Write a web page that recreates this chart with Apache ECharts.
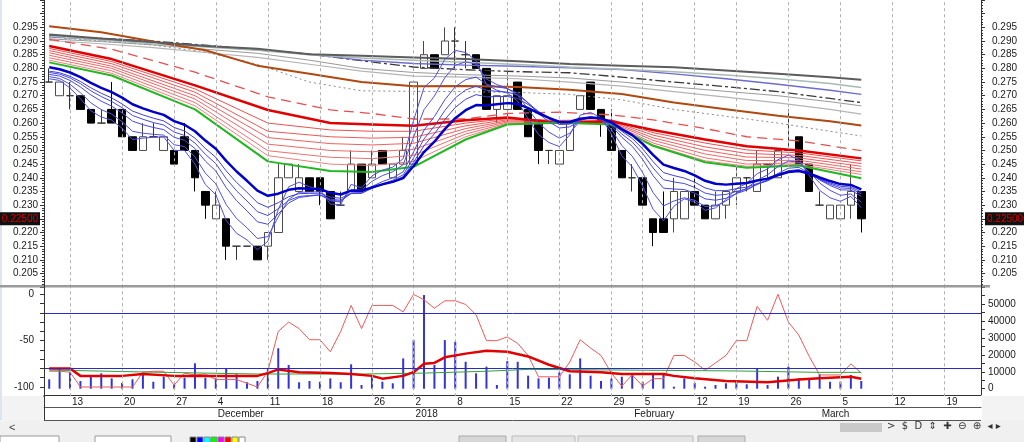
<!doctype html>
<html lang="en">
<head>
<meta charset="UTF-8">
<title>GMMA daily chart</title>
<script src="https://cdn.jsdelivr.net/npm/echarts@6/dist/echarts.min.js"></script>
<style>html,body{margin:0;padding:0;background:#fff;overflow:hidden}</style>
</head>
<body>
<div id="chart" style="width:1024px;height:442px"></div>
<script>
// trading days (the last ones are empty space on the right of the chart)
const dates = [
  '2017-11-09','2017-11-10','2017-11-13','2017-11-14','2017-11-15','2017-11-16','2017-11-17','2017-11-20','2017-11-21','2017-11-22',
  '2017-11-23','2017-11-24','2017-11-27','2017-11-28','2017-11-29','2017-11-30','2017-12-04','2017-12-05','2017-12-06','2017-12-07',
  '2017-12-08','2017-12-11','2017-12-12','2017-12-13','2017-12-14','2017-12-15','2017-12-18','2017-12-19','2017-12-20','2017-12-21',
  '2017-12-22','2017-12-26','2017-12-27','2017-12-28','2017-12-29','2018-01-02','2018-01-03','2018-01-04','2018-01-05','2018-01-08',
  '2018-01-09','2018-01-10','2018-01-11','2018-01-12','2018-01-15','2018-01-16','2018-01-17','2018-01-18','2018-01-19','2018-01-22',
  '2018-01-23','2018-01-24','2018-01-25','2018-01-26','2018-01-29','2018-01-30','2018-02-01','2018-02-05','2018-02-06','2018-02-07',
  '2018-02-08','2018-02-09','2018-02-12','2018-02-13','2018-02-14','2018-02-15','2018-02-19','2018-02-20','2018-02-21','2018-02-22',
  '2018-02-23','2018-02-26','2018-02-27','2018-02-28','2018-03-01','2018-03-02','2018-03-05','2018-03-06','2018-03-07','2018-03-08',
  '2018-03-09','2018-03-12','2018-03-13','2018-03-14','2018-03-15','2018-03-16','2018-03-19','2018-03-20','2018-03-21','2018-03-22'
];
const monthNames = ['January','February','March','April','May','June','July','August','September','October','November','December'];

const opens = [.275,.270,.270,.270,.265,.260,.265,.265,.255,.250,
  .255,.250,.250,.255,.250,.235,.225,.225,.215,.215,
  .215,.215,.220,.240,.235,.240,.240,.235,.230,.235,
  .245,.240,.250,.240,.245,.245,.280,.285,.285,.290,
  .285,.285,.280,.265,.265,.275,.265,.260,.250,.245,
  .250,.265,.275,.265,.260,.250,.240,.240,.225,.225,
  .225,.225,.235,.230,.225,.230,.235,.240,.235,.245,
  .240,.250,.255,.245,.230,.225,.225,.230,.235];
const closes = [.275,.275,.270,.265,.260,.260,.260,.255,.250,.255,
  .255,.255,.245,.250,.240,.230,.230,.215,.215,.215,
  .210,.220,.240,.245,.240,.235,.235,.225,.230,.245,
  .235,.245,.245,.245,.250,.275,.285,.280,.290,.290,
  .285,.280,.265,.270,.270,.265,.255,.250,.250,.250,
  .260,.270,.265,.260,.250,.240,.240,.230,.220,.220,
  .235,.235,.230,.225,.230,.235,.240,.240,.245,.245,
  .250,.250,.245,.235,.230,.230,.230,.235,.225];
const highs = [.280,.275,.275,.270,.265,.265,.275,.265,.255,.260,
  .260,.255,.250,.260,.250,.235,.235,.225,.215,.215,
  .215,.220,.245,.245,.245,.240,.240,.235,.235,.250,
  .245,.250,.250,.245,.255,.275,.290,.285,.295,.295,
  .290,.285,.280,.270,.280,.275,.265,.260,.250,.250,
  .260,.270,.275,.265,.265,.250,.245,.240,.225,.235,
  .240,.235,.240,.230,.235,.235,.245,.240,.250,.245,
  .250,.265,.255,.245,.235,.230,.230,.245,.235];
const lows = [.275,.270,.265,.265,.260,.260,.260,.255,.250,.250,
  .255,.250,.245,.250,.235,.225,.225,.210,.210,.215,
  .210,.210,.220,.240,.235,.235,.230,.225,.230,.235,
  .235,.240,.245,.240,.245,.245,.280,.280,.285,.280,
  .280,.280,.265,.260,.260,.265,.255,.245,.245,.245,
  .250,.265,.265,.255,.250,.240,.235,.230,.215,.220,
  .220,.225,.230,.225,.225,.225,.230,.235,.235,.240,
  .240,.250,.245,.235,.230,.225,.225,.225,.220];

// long-term averages, read at these day indexes
const longIdx = [0,5,10,15,20,25,30,35,40,45,50,55,60,65,70,75,78];
const maGrey1 = [.2924,.2909,.2896,.2882,.2872,.2852,.2846,.2840,.2834,.2826,.2816,.2810,.2804,.2792,.2780,.2768,.2758];
const maGrey2 = [.2918,.2904,.2890,.2878,.2866,.2850,.2838,.2830,.2822,.2814,.2805,.2797,.2788,.2776,.2762,.2745,.2730];
const maSlate = [.2915,.2905,.2895,.2882,.2868,.2852,.2830,.2818,.2812,.2808,.2802,.2796,.2780,.2762,.2742,.2720,.2705];
const maDashDot = [.2920,.2910,.2900,.2885,.2868,.2852,.2828,.2805,.2795,.2788,.2784,.2768,.2750,.2733,.2715,.2690,.2675];
const maGrey3 = [.2908,.2898,.2886,.2870,.2855,.2830,.2800,.2785,.2777,.2772,.2765,.2750,.2732,.2716,.2700,.2678,.2663];
const maGrey4 = [.2902,.2890,.2876,.2858,.2840,.2815,.2790,.2772,.2768,.2762,.2750,.2735,.2715,.2695,.2674,.2650,.2633];
const maBrown = [.2954,.2932,.2898,.2866,.2810,.2780,.2750,.2735,.2736,.2732,.2722,.2706,.2675,.2651,.2627,.2607,.2591];
const maDotted = [.2915,.2900,.2885,.2860,.2815,.2750,.2718,.2716,.2715,.2712,.2705,.2685,.2650,.2625,.2600,.2570,.2553];

// red / green band, read at these day indexes
const redIdx = [0,6,14,21,27,31,35,40,44,49,54,58,63,67,72,78];
const redDashed = [.2906,.2870,.2786,.2696,.2648,.2635,.2615,.2615,.2635,.2640,.2630,.2612,.2580,.2550,.2535,.2499];
const redThick = [.2882,.2834,.2738,.2648,.2600,.2595,.2590,.2610,.2620,.2600,.2607,.2575,.2540,.2515,.2500,.2471];
const red2 = [.2873,.2825,.2725,.2600,.2575,.2570,.2570,.2600,.2616,.2610,.2612,.2565,.2527,.2502,.2491,.2462];
const red3 = [.2865,.2817,.2713,.2570,.2550,.2545,.2548,.2590,.2612,.2607,.2608,.2556,.2513,.2489,.2482,.2452];
const red4 = [.2857,.2808,.2700,.2547,.2525,.2520,.2526,.2580,.2608,.2605,.2605,.2546,.2500,.2476,.2473,.2442];
const red5 = [.2848,.2800,.2688,.2523,.2500,.2495,.2504,.2570,.2604,.2603,.2602,.2537,.2487,.2463,.2464,.2432];
const red6 = [.2839,.2791,.2675,.2499,.2475,.2470,.2482,.2560,.2600,.2600,.2599,.2527,.2473,.2450,.2455,.2422];
const red7 = [.2830,.2782,.2663,.2481,.2450,.2445,.2460,.2550,.2597,.2598,.2597,.2520,.2462,.2442,.2449,.2412];
const greenMa = [.2822,.2774,.2650,.2460,.2425,.2421,.2440,.2540,.2595,.2602,.2595,.2517,.2457,.2437,.2445,.2398];

// short-term blue averages, one value per trading day
const blue6 = [.2762,.2756,.2728,.2689,.2645,.2622,.2611,.2581,.2540,.2545,
  .2548,.2549,.2500,.2500,.2450,.2375,.2338,.2244,.2197,.2173,
  .2137,.2168,.2284,.2367,.2384,.2367,.2358,.2304,.2302,.2376,
  .2363,.2407,.2428,.2439,.2470,.2610,.2730,.2765,.2833,.2866,
  .2858,.2829,.2740,.2720,.2710,.2680,.2615,.2558,.2529,.2514,
  .2557,.2629,.2639,.2620,.2560,.2480,.2440,.2370,.2285,.2243,
  .2296,.2323,.2312,.2281,.2290,.2320,.2360,.2380,.2415,.2432,
  .2466,.2483,.2467,.2408,.2354,.2327,.2314,.2332,.2291];
const blue5 = [.2770,.2763,.2742,.2711,.2674,.2649,.2633,.2605,.2570,.2563,
  .2559,.2556,.2521,.2514,.2476,.2417,.2378,.2302,.2251,.2217,
  .2178,.2185,.2257,.2321,.2347,.2348,.2349,.2316,.2311,.2357,
  .2355,.2387,.2408,.2422,.2448,.2549,.2649,.2699,.2766,.2811,
  .2824,.2816,.2761,.2741,.2727,.2701,.2651,.2601,.2567,.2545,
  .2563,.2609,.2623,.2615,.2577,.2518,.2479,.2419,.2346,.2297,
  .2315,.2327,.2318,.2295,.2297,.2315,.2343,.2362,.2391,.2411,
  .2441,.2461,.2457,.2421,.2381,.2354,.2336,.2341,.2311];
const blue4 = [.2778,.2772,.2756,.2732,.2703,.2680,.2662,.2637,.2607,.2594,
  .2584,.2576,.2548,.2537,.2507,.2461,.2425,.2364,.2316,.2279,
  .2239,.2230,.2268,.2308,.2328,.2333,.2337,.2318,.2314,.2344,
  .2345,.2368,.2386,.2400,.2422,.2495,.2574,.2624,.2685,.2733,
  .2759,.2768,.2742,.2733,.2726,.2709,.2674,.2635,.2605,.2582,
  .2586,.2611,.2620,.2616,.2590,.2548,.2515,.2467,.2408,.2362,
  .2359,.2357,.2344,.2323,.2318,.2325,.2342,.2355,.2376,.2392,
  .2416,.2435,.2438,.2418,.2392,.2372,.2356,.2355,.2332];
const blue3 = [.2785,.2779,.2765,.2744,.2718,.2697,.2679,.2656,.2628,.2614,
  .2602,.2593,.2567,.2555,.2527,.2486,.2452,.2397,.2352,.2315,
  .2276,.2262,.2287,.2317,.2332,.2335,.2338,.2322,.2318,.2342,
  .2343,.2362,.2378,.2391,.2411,.2473,.2542,.2589,.2646,.2692,
  .2721,.2735,.2720,.2716,.2713,.2702,.2674,.2642,.2616,.2595,
  .2596,.2615,.2621,.2617,.2596,.2560,.2531,.2489,.2436,.2393,
  .2385,.2379,.2365,.2344,.2336,.2339,.2350,.2359,.2376,.2389,
  .2409,.2426,.2430,.2415,.2394,.2377,.2363,.2361,.2341];
const blue2 = [.2790,.2784,.2771,.2752,.2729,.2709,.2692,.2670,.2644,.2630,
  .2618,.2608,.2584,.2571,.2545,.2507,.2475,.2425,.2383,.2347,
  .2309,.2292,.2309,.2331,.2342,.2343,.2344,.2330,.2325,.2344,
  .2345,.2361,.2375,.2387,.2404,.2457,.2517,.2561,.2613,.2657,
  .2687,.2704,.2696,.2697,.2697,.2690,.2668,.2642,.2620,.2602,
  .2602,.2617,.2622,.2619,.2601,.2570,.2544,.2506,.2459,.2419,
  .2408,.2399,.2384,.2363,.2353,.2353,.2360,.2366,.2379,.2390,
  .2407,.2421,.2425,.2414,.2396,.2381,.2369,.2366,.2348];
const blueThick = [.2804,.2797,.2785,.2768,.2747,.2729,.2713,.2693,.2669,.2654,
  .2641,.2630,.2607,.2594,.2570,.2536,.2506,.2462,.2423,.2389,
  .2353,.2334,.2342,.2356,.2362,.2360,.2359,.2345,.2339,.2353,
  .2353,.2365,.2376,.2385,.2399,.2443,.2494,.2532,.2578,.2618,
  .2647,.2666,.2664,.2669,.2673,.2670,.2655,.2636,.2619,.2604,
  .2604,.2616,.2620,.2618,.2603,.2578,.2556,.2524,.2484,.2448,
  .2436,.2425,.2409,.2389,.2378,.2375,.2378,.2381,.2390,.2397,
  .2410,.2421,.2425,.2416,.2401,.2388,.2377,.2374,.2358];

// lower panel
const volumes = [5550,12000,9700,4550,7100,9100,6100,3500,5550,8500,
  4100,7100,2600,6500,15000,6500,6100,12000,8500,3800,
  4550,12000,23900,14000,3800,4550,4100,6100,3800,14400,
  2200,7100,4100,3200,17900,28700,55300,14000,28700,27700,
  15900,9100,13000,2200,16300,15900,7700,6100,6500,9700,
  8500,17900,7700,4550,6100,7100,8100,4100,8100,8500,
  1200,6100,3500,1200,2200,3200,4100,2600,12000,2200,
  7100,13000,6100,6100,8500,4100,4100,8100,4550];
const pctR = [-83,-83,-84,-100,-100,-100,-100,-100,-100,-84,
  -83,-83,-98,-85,-87,-86,-92,-92,-92,-96,
  -100,-83,-40,-30,-37,-49,-49,-62,-40,-12,
  -37,-12,-12,-12,-19,0,-6,-15,-7,-7,
  -11,-22,-50,-50,-46,-53,-66,-89,-89,-89,
  -73,-49,-58,-66,-85,-99,-87,-99,-91,-91,
  -66,-66,-73,-82,-74,-66,-50,-50,-13,-28,
  0,-30,-44,-67,-87,-87,-87,-75,-85];
const slowIdx = [0,2,3,7,9,12,20,21,22,24,27,29,31,32,34,35,36,37,38,40,42,44,46,48,50,53,55,59,60,62,65,69,72,74,77,78];
const slowRed = [-80,-80,-88,-88,-86,-88,-88,-85,-81,-84,-85,-86,-88,-91,-88,-84,-75,-74,-68,-64,-61,-62,-67,-76,-83,-84,-86,-86,-88,-90.6,-93.5,-95,-92,-90.6,-89,-91];
const greenIdx = [0,10,20,30,36,42,46,55,66,74,78];
const greenLow = [-81.7,-84,-86,-86,-85,-83,-81,-81.7,-82.7,-84.2,-84.2];
const levels = [-20, -80];

const weekday = s => new Date(s + 'T00:00:00Z').getUTCDay();
const isWeekStart = i => i > 0 && weekday(dates[i]) < weekday(dates[i - 1]);
const isMonthStart = i => i > 0 && dates[i].slice(5, 7) !== dates[i - 1].slice(5, 7);
const weekLines = dates.filter((d, i) => isWeekStart(i));

const pairs = (idx, vals) => idx.map((d, k) => [d, vals[k]]);
const daily = vals => vals.map((v, i) => [i, v]);
const candles = opens.map((o, i) => [o, closes[i], lows[i], highs[i]]);
const last = closes[closes.length - 1];

const FONT = 'Liberation Sans';
const TXT = '#1a1a1a';

function ma(data, color, width, type, z) {
  return {
    type: 'line', xAxisIndex: 0, yAxisIndex: 0, data: data, symbol: 'none',
    silent: true, z: z || 3,
    lineStyle: { color: color, width: width, type: type || 'solid' }
  };
}
function osc(data, color, width) {
  return {
    type: 'line', xAxisIndex: 1, yAxisIndex: 2, data: data, symbol: 'none',
    silent: true, z: 3, lineStyle: { color: color, width: width }
  };
}

const dashV = { color: '#b0b0b0', width: 1, type: [3, 3] };
const weekMarks = weekLines.map(d => ({ xAxis: d, lineStyle: dashV, label: { show: false } }));

const chart = echarts.init(document.getElementById('chart'));

const option = {
  animation: false,
  backgroundColor: '#fff',
  grid: [
    { left: 44, right: 43, top: -5.1, height: 292.3 },
    { left: 44, right: 43, top: 285.03, height: 111.24 },
    { left: 44, right: 43, top: 287.1, height: 101.6 },
    { left: 44, right: 43, top: 383, height: 12 }
  ],
  xAxis: [
    { type: 'category', gridIndex: 0, data: dates, show: false },
    { type: 'category', gridIndex: 1, data: dates, show: false },
    { type: 'category', gridIndex: 2, data: dates, show: false },
    {
      type: 'category', gridIndex: 3, data: dates, position: 'bottom',
      axisLine: { lineStyle: { color: '#333' } },
      axisTick: { alignWithLabel: true, interval: isWeekStart, length: 12, lineStyle: { color: '#333' } },
      axisLabel: {
        interval: isWeekStart, formatter: v => String(+v.slice(8)), align: 'left',
        padding: [0, 0, 0, 2], margin: 2, color: TXT, fontSize: 10, fontFamily: FONT
      },
      splitLine: { show: false }
    },
    {
      type: 'category', gridIndex: 3, data: dates, position: 'bottom', offset: 12.5,
      axisLine: { lineStyle: { color: '#555' } },
      axisTick: { alignWithLabel: true, interval: isMonthStart, length: 12.5, lineStyle: { color: '#333' } },
      axisLabel: {
        interval: isMonthStart,
        formatter: v => v.slice(5, 7) === '01' ? v.slice(0, 4) : monthNames[+v.slice(5, 7) - 1],
        align: 'left', padding: [0, 0, 0, 2], margin: 2, color: TXT, fontSize: 10, fontFamily: FONT
      },
      splitLine: { show: false }
    }
  ],
  yAxis: [
    {
      type: 'value', gridIndex: 0, min: 0.2, max: 0.305, interval: 0.005, position: 'left',
      axisLine: { show: false }, splitLine: { show: false },
      axisTick: { show: true, length: 4, lineStyle: { color: '#333' } },
      minorTick: { show: true, splitNumber: 5, length: 2, lineStyle: { color: '#333' } },
      axisLabel: {
        margin: 6, color: TXT, fontSize: 10, fontFamily: FONT,
        formatter: v => (v > 0.2049 && v < 0.2951) ? v.toFixed(3) : ''
      }
    },
    {
      type: 'value', gridIndex: 0, min: 0.2, max: 0.305, interval: 0.005, position: 'right',
      axisLine: { show: false }, splitLine: { show: false },
      axisTick: { show: true, length: 4, lineStyle: { color: '#333' } },
      minorTick: { show: true, splitNumber: 5, length: 2, lineStyle: { color: '#333' } },
      axisLabel: {
        margin: 11, color: TXT, fontSize: 10, fontFamily: FONT,
        formatter: v => (v > 0.2049 && v < 0.2951) ? v.toFixed(3) : ''
      }
    },
    {
      type: 'value', gridIndex: 1, min: -110, max: 10, interval: 10, position: 'left',
      axisLine: { show: false }, splitLine: { show: false },
      axisTick: { show: true, length: 4, lineStyle: { color: '#333' } },
      axisLabel: {
        margin: 10, color: TXT, fontSize: 10, fontFamily: FONT,
        formatter: v => { const r = Math.round(v); return (r === 0 || r === -50 || r === -100) ? r : ''; }
      }
    },
    {
      type: 'value', gridIndex: 2, min: 0, max: 60000, interval: 10000, position: 'right',
      axisLine: { show: false }, splitLine: { show: false },
      axisTick: { show: true, length: 4, lineStyle: { color: '#333' } },
      minorTick: { show: true, splitNumber: 2, length: 4, lineStyle: { color: '#333' } },
      axisLabel: {
        margin: 7, color: TXT, fontSize: 10, fontFamily: FONT,
        formatter: v => v <= 50000 ? v : ''
      }
    },
    { type: 'value', gridIndex: 3, show: false }
  ],
  series: [
    {
      type: 'candlestick', xAxisIndex: 0, yAxisIndex: 0, data: candles, barWidth: 8, z: 2,
      itemStyle: {
        color: '#fff', color0: '#000', borderColor: '#4a4a4a', borderColor0: '#000',
        borderColorDoji: '#333', borderWidth: 1
      },
      markLine: { silent: true, symbol: ['none', 'none'], animation: false, data: weekMarks }
    },
    ma(pairs(longIdx, maDotted), '#8a8a8a', 1, [2, 3]),
    ma(pairs(longIdx, maGrey4), '#b4b4b4', 1.2),
    ma(pairs(longIdx, maGrey3), '#9a9a9a', 1),
    ma(pairs(longIdx, maDashDot), '#3a3a3a', 1.3, [10, 3, 3, 3]),
    ma(pairs(longIdx, maSlate), '#6c6cd0', 1.4),
    ma(pairs(longIdx, maGrey2), '#a8bab2', 1.5),
    ma(pairs(longIdx, maBrown), '#b0480f', 2),
    ma(pairs(longIdx, maGrey1), '#5c5c5c', 2),
    ma(pairs(redIdx, redDashed), '#e45050', 1.3, [10, 6]),
    ma(pairs(redIdx, red7), '#f08080', 1),
    ma(pairs(redIdx, red6), '#f07070', 1),
    ma(pairs(redIdx, red5), '#f06868', 1),
    ma(pairs(redIdx, red4), '#f06060', 1),
    ma(pairs(redIdx, red3), '#ee5858', 1),
    ma(pairs(redIdx, red2), '#ee5050', 1),
    ma(pairs(redIdx, redThick), '#e00000', 2.5, 'solid', 4),
    ma(pairs(redIdx, greenMa), '#22b822', 2, 'solid', 4),
    ma(daily(blue6), '#5050e4', 1, 'solid', 5),
    ma(daily(blue5), '#5050e4', 1, 'solid', 5),
    ma(daily(blue4), '#4848e0', 1, 'solid', 5),
    ma(daily(blue3), '#4848e0', 1, 'solid', 5),
    ma(daily(blue2), '#4040dc', 1, 'solid', 5),
    ma(daily(blueThick), '#0000c8', 2.5, 'solid', 6),
    {
      type: 'bar', xAxisIndex: 2, yAxisIndex: 3, data: volumes, barWidth: 2, z: 2,
      itemStyle: { color: '#3434d4' }, silent: true
    },
    Object.assign(osc(daily(pctR), '#ec5a5a', 1), {
      markLine: {
        silent: true, symbol: ['none', 'none'], animation: false, label: { show: false },
        data: weekMarks.concat(levels.map(v => ({ yAxis: v, lineStyle: { color: '#2a2ac8', width: 1, type: 'solid' } })))
      }
    }),
    osc(pairs(greenIdx, greenLow), '#33a033', 1),
    osc(pairs(slowIdx, slowRed), '#e00000', 2.5)
  ]
};

chart.setOption(option);

// frame, toolbar and the last-price tags (tag height from the price axis)
const tagY = chart.convertToPixel({ yAxisIndex: 0 }, last);
const tagStyle = (x, align) => ({
  x: x, y: tagY, text: last.toFixed(5), align: align, verticalAlign: 'middle',
  fill: '#d40000', font: '10px ' + FONT, backgroundColor: '#111', padding: [2, 2, 1, 2]
});
const decor = [
  { type: 'rect', shape: { x: 0, y: 285, width: 990, height: 2.5 }, style: { fill: '#9a9a9a' }, z: 10 },
  { type: 'line', shape: { x1: 44.5, y1: 0, x2: 44.5, y2: 420 }, style: { stroke: '#333', lineWidth: 1 }, z: 10 },
  { type: 'line', shape: { x1: 981.5, y1: 0, x2: 981.5, y2: 395 }, style: { stroke: '#333', lineWidth: 1 }, z: 10 },
  { type: 'line', shape: { x1: 44, y1: 420.5, x2: 981, y2: 420.5 }, style: { stroke: '#555', lineWidth: 1 }, z: 10 },
  { type: 'rect', shape: { x: 0, y: 396, width: 43.5, height: 25 }, style: { fill: '#f3f3f3' }, z: 1 },
  { type: 'rect', shape: { x: 982, y: 396, width: 42, height: 25 }, style: { fill: '#f3f3f3' }, z: 1 },
  { type: 'rect', shape: { x: 0, y: 421, width: 1024, height: 21 }, style: { fill: '#f0f0f0' }, z: 1 },
  { type: 'rect', shape: { x: 0, y: 0, width: 2, height: 420 }, style: { fill: '#dfe5ee' }, z: 1 },
  { type: 'text', style: tagStyle(40, 'right'), z: 12 },
  { type: 'text', style: tagStyle(985, 'left'), z: 12 },
  { type: 'text', style: { x: 9, y: 422, text: '<', fill: '#444', font: '11px ' + FONT }, z: 11 },
  { type: 'rect', shape: { x: 840, y: 423, width: 42, height: 9 }, style: { fill: '#c9c9c9' }, z: 11 },
  { type: 'text', style: { x: 887, y: 421, text: '>  $  D  ⇕  ✚  ⊖  ⊕  ◂ ▸', fill: '#333', font: '10px DejaVu Sans' }, z: 11 },
  { type: 'rect', shape: { x: 0, y: 436, width: 59, height: 8 }, style: { fill: '#fff', stroke: '#999' }, z: 11 },
  { type: 'rect', shape: { x: 95, y: 436, width: 76, height: 8 }, style: { fill: '#fff', stroke: '#999' }, z: 11 },
  { type: 'rect', shape: { x: 459, y: 436, width: 47, height: 8 }, style: { fill: '#d6d6d6', stroke: '#aaa' }, z: 11 },
  { type: 'rect', shape: { x: 512, y: 436, width: 63, height: 8 }, style: { fill: '#e4e4e4', stroke: '#bbb' }, z: 11 },
  { type: 'rect', shape: { x: 578, y: 436, width: 115, height: 8 }, style: { fill: '#e4e4e4', stroke: '#bbb' }, z: 11 },
  { type: 'rect', shape: { x: 698, y: 436, width: 47, height: 8 }, style: { fill: '#d6d6d6', stroke: '#aaa' }, z: 11 }
].concat(['#000', '#00f', '#0ff', '#0f0', '#f0f', '#f00', '#ff0', '#fff'].map((c, k) => ({
  type: 'rect', shape: { x: 190 + k * 7, y: 437, width: 6, height: 6 }, style: { fill: c, stroke: '#888' }, z: 11
})));
chart.setOption({ graphic: decor });
</script>
</body>
</html>
